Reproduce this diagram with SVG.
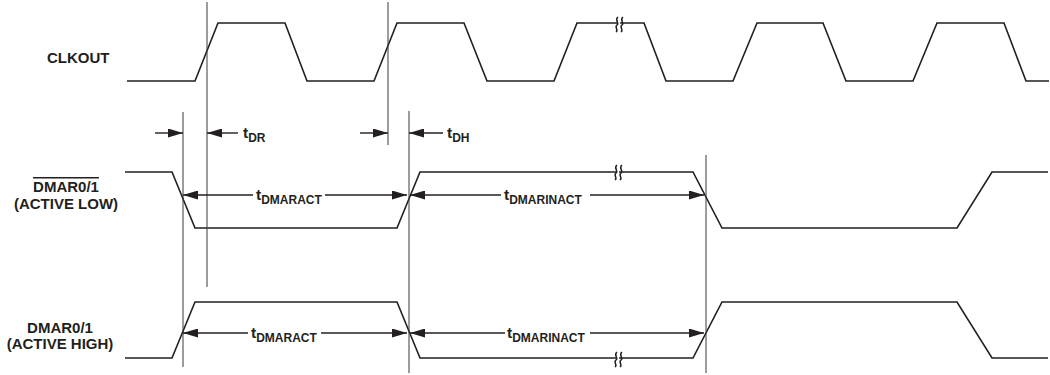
<svg xmlns="http://www.w3.org/2000/svg" xmlns:xlink="http://www.w3.org/1999/xlink" width="1050" height="375" viewBox="0 0 1050 375">
<style>
.wave{fill:none;stroke:#231f20;stroke-width:1.6;stroke-linejoin:miter}
.vl{stroke:#3a3a3a;stroke-width:1}
.arr{stroke:#231f20;stroke-width:1.4;fill:none;marker-end:url(#ah)}
.lbl{font-family:"Liberation Sans",Arial,sans-serif;font-weight:bold;font-size:15px;fill:#231f20}
.t{font-family:"Liberation Sans",Arial,sans-serif;font-weight:bold;font-size:15.5px;fill:#231f20}
.sub{font-size:12px}
.brk path{fill:none;stroke:#231f20;stroke-width:1.5}
</style>
<defs>
<marker id="ah" viewBox="0 0 15 9" refX="15" refY="4.5" markerWidth="15" markerHeight="9" markerUnits="userSpaceOnUse" orient="auto"><path d="M0,0L15,4.5L0,9z" fill="#231f20"/></marker>
<g id="brk" class="brk">
<rect x="-2" y="-2" width="3" height="4" fill="#fff"/>
<path d="M-1,-7 C-5,-4 1,-1 -2,1 C-5,3 0,6 -3,8"/>
<path d="M4,-7 C0,-4 6,-1 3,1 C0,3 5,6 2,8"/>
</g>
</defs>

<g id="labels">
<text class="lbl" x="47" y="63">CLKOUT</text>
<text class="lbl" x="66" y="192" text-anchor="middle" text-decoration="overline">DMAR0/1</text>
<text class="lbl" x="66" y="209" text-anchor="middle">(ACTIVE LOW)</text>
<text class="lbl" x="60" y="333" text-anchor="middle">DMAR0/1</text>
<text class="lbl" x="60" y="349" text-anchor="middle">(ACTIVE HIGH)</text>
</g>

<g id="clkout">
<polyline class="wave" points="127,81 195,81 218,23 285,23 307,81 374,81 397,23 464,23 487,81 554,81 577,23 644,23 666,81 733,81 757,23 823,23 846,81 913,81 937,23 1004,23 1026,81 1049,81"/>
<use xlink:href="#brk" href="#brk" x="619" y="24"/>
</g>

<g id="dmar-active-low">
<polyline class="wave" points="125,172 172,172 195,228 397,228 420,172 693,172 722,228 957,228 992,172 1048,172"/>
<use xlink:href="#brk" href="#brk" x="618" y="172"/>
</g>

<g id="dmar-active-high">
<polyline class="wave" points="125,358 172,358 195,302 397,302 420,358 693,358 722,302 957,302 992,358 1048,358"/>
<use xlink:href="#brk" href="#brk" x="618" y="359"/>
</g>

<g id="connectors">
<line class="vl" x1="207" y1="2" x2="207" y2="287"/>
<line class="vl" x1="388" y1="2" x2="388" y2="145"/>
<line class="vl" x1="183" y1="112" x2="183" y2="367"/>
<line class="vl" x1="409" y1="111" x2="409" y2="373"/>
<line class="vl" x1="706" y1="155" x2="706" y2="373"/>

<line class="arr" x1="155" y1="133" x2="183" y2="133"/>
<line class="arr" x1="238" y1="133" x2="207" y2="133"/>
<line class="arr" x1="360" y1="133" x2="388" y2="133"/>
<line class="arr" x1="443" y1="133" x2="409" y2="133"/>

<line class="arr" x1="253" y1="195" x2="183" y2="195"/>
<line class="arr" x1="325" y1="195" x2="407" y2="195"/>
<line class="arr" x1="501" y1="195" x2="410" y2="195"/>
<line class="arr" x1="590" y1="195" x2="704" y2="195"/>

<line class="arr" x1="248" y1="333" x2="183" y2="333"/>
<line class="arr" x1="321" y1="333" x2="407" y2="333"/>
<line class="arr" x1="505" y1="333" x2="410" y2="333"/>
<line class="arr" x1="590" y1="333" x2="704" y2="333"/>
</g>

<g id="timing-labels">
<text class="t" x="243" y="138">t<tspan class="sub" dy="3.5">DR</tspan></text>
<text class="t" x="447" y="138">t<tspan class="sub" dy="3.5">DH</tspan></text>
<text class="t" x="256" y="200">t<tspan class="sub" dy="3.5">DMARACT</tspan></text>
<text class="t" x="504" y="200">t<tspan class="sub" dy="3.5">DMARINACT</tspan></text>
<text class="t" x="251" y="338">t<tspan class="sub" dy="3.5">DMARACT</tspan></text>
<text class="t" x="507" y="338">t<tspan class="sub" dy="3.5">DMARINACT</tspan></text>
</g>
</svg>
